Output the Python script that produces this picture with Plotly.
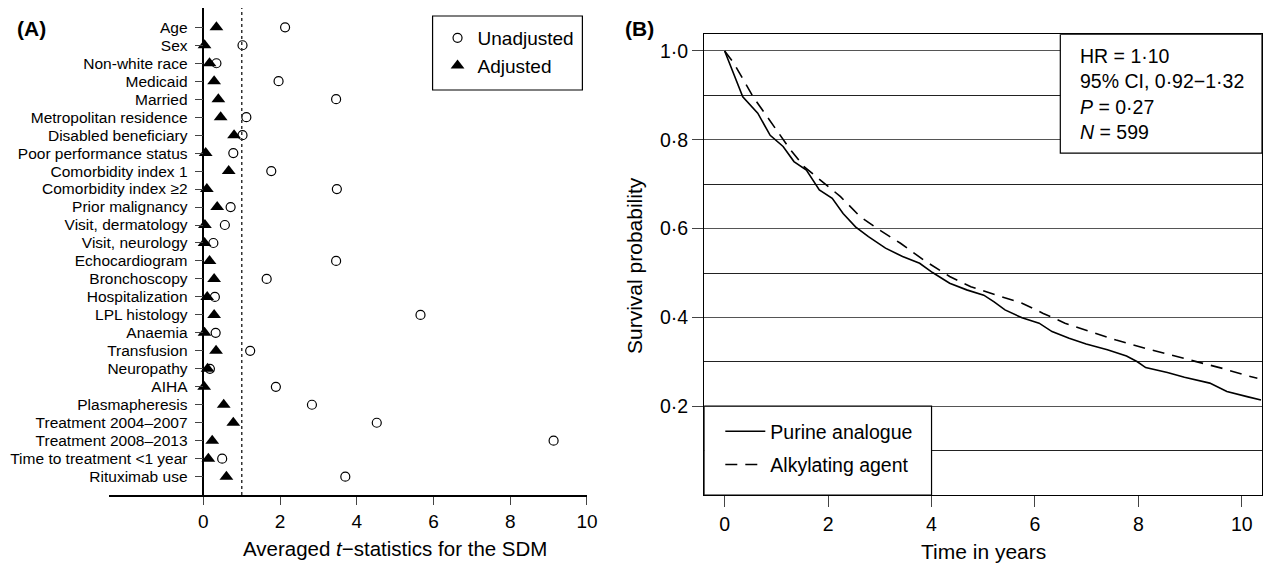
import plotly.graph_objects as go

W, H = 1274, 563
def px(x):
    return x / W
def py(y):
    return 1 - y / H

# ---------------- Panel A data ----------------
covariates = [
    "Age", "Sex", "Non-white race", "Medicaid", "Married", "Metropolitan residence",
    "Disabled beneficiary", "Poor performance status", "Comorbidity index 1",
    "Comorbidity index ≥2", "Prior malignancy", "Visit, dermatology", "Visit, neurology",
    "Echocardiogram", "Bronchoscopy", "Hospitalization", "LPL histology", "Anaemia",
    "Transfusion", "Neuropathy", "AIHA", "Plasmapheresis", "Treatment 2004–2007",
    "Treatment 2008–2013", "Time to treatment <1 year", "Rituximab use",
]
unadjusted = [2.13, 1.02, 0.34, 1.96, 3.46, 1.12, 1.02, 0.78, 1.77, 3.48, 0.71, 0.56, 0.26,
              3.46, 1.65, 0.30, 5.66, 0.32, 1.22, 0.17, 1.89, 2.83, 4.52, 9.13, 0.49, 3.70]
adjusted = [0.34, 0.03, 0.16, 0.28, 0.39, 0.45, 0.80, 0.06, 0.66, 0.09, 0.36, 0.04, 0.03,
            0.16, 0.28, 0.10, 0.28, 0.03, 0.33, 0.11, 0.02, 0.53, 0.78, 0.23, 0.13, 0.60]
a_xticks = [0, 2, 4, 6, 8, 10]
threshold = 1.0

# ---------------- Panel B data ----------------
purine_t = [0, 0.35, 0.64, 0.88, 1.13, 1.34, 1.58, 1.83, 2.08, 2.29, 2.53, 2.78, 3.11, 3.44,
            3.77, 4.02, 4.35, 4.68, 5.01, 5.21, 5.42, 5.75, 6.08, 6.33, 6.66, 6.99, 7.40,
            7.77, 7.98, 8.14, 8.56, 8.89, 9.38, 9.71, 10.12, 10.37]
purine_s = [1.0, 0.897, 0.86, 0.81, 0.785, 0.751, 0.732, 0.687, 0.668, 0.634, 0.604, 0.582,
            0.556, 0.537, 0.522, 0.501, 0.477, 0.462, 0.450, 0.435, 0.417, 0.399, 0.387,
            0.368, 0.353, 0.340, 0.327, 0.313, 0.300, 0.287, 0.276, 0.265, 0.252, 0.233,
            0.221, 0.214]
alkyl_t = [0, 0.18, 0.55, 0.97, 1.25, 1.54, 1.96, 2.24, 2.62, 2.99, 3.40, 3.85, 4.35, 4.76,
           5.26, 5.75, 6.16, 6.58, 7.07, 7.57, 8.14, 8.64, 9.13, 9.63, 10.12, 10.30]
alkyl_s = [1.0, 0.972, 0.897, 0.826, 0.781, 0.739, 0.698, 0.672, 0.627, 0.597, 0.567, 0.529,
           0.492, 0.469, 0.450, 0.432, 0.409, 0.387, 0.368, 0.349, 0.330, 0.315, 0.300,
           0.285, 0.268, 0.263]
b_xticks = [0, 2, 4, 6, 8, 10]
b_yticks = [0.2, 0.4, 0.6, 0.8, 1.0]
b_yticktext = ["0·2", "0·4", "0·6", "0·8", "1·0"]
b_minor = [0.1, 0.3, 0.5, 0.7, 0.9]
stats_lines = ["HR = 1·10", "95% CI, 0·92−1·32", "<i>P</i> = 0·27", "<i>N</i> = 599"]

FONT = "Liberation Sans, Arial, Helvetica, sans-serif"

fig = go.Figure()
fig.add_trace(go.Scatter(
    x=unadjusted, y=covariates, mode="markers", name="Unadjusted",
    marker=dict(symbol="circle-open", size=9, color="black", line=dict(width=1.2)),
    xaxis="x", yaxis="y", legend="legend"))
fig.add_trace(go.Scatter(
    x=adjusted, y=covariates, mode="markers", name="Adjusted",
    marker=dict(symbol="triangle-up", size=12, color="black"),
    xaxis="x", yaxis="y", legend="legend"))
fig.add_trace(go.Scatter(
    x=purine_t, y=purine_s, mode="lines", name="Purine analogue",
    line=dict(color="black", width=1.6), xaxis="x2", yaxis="y2",
    legend="legend2", legendgroup="pa"))
fig.add_trace(go.Scatter(
    x=alkyl_t, y=alkyl_s, mode="lines", name="Alkylating agent",
    line=dict(color="black", width=1.6, dash="12px,8px"), xaxis="x2", yaxis="y2",
    legend="legend2", legendgroup="aa"))

bx_min, bx_max = -0.397, 10.39

fig.update_layout(
    width=W, height=H, margin=dict(l=0, r=0, t=0, b=0),
    paper_bgcolor="white", plot_bgcolor="white",
    font=dict(family=FONT, color="black"),
    showlegend=True,
    xaxis=dict(domain=[px(110), px(592)], range=[-2.457, 10.01], tickvals=a_xticks,
               ticks="outside", ticklen=8, tickwidth=1.3, showline=True, linecolor="black",
               linewidth=1.5, showgrid=False, zeroline=False, tickfont=dict(size=19),
               anchor="y"),
    yaxis=dict(domain=[py(495), py(8)], type="category", categoryorder="array",
               categoryarray=covariates, range=[26.02, -1.073], anchor="free",
               position=px(205), showline=True, linecolor="black", linewidth=1.5,
               tickmode="linear", tick0=0, dtick=1,
               ticks="outside", ticklen=8, tickwidth=1.3, showgrid=False, zeroline=False,
               tickfont=dict(size=15.5), ticklabelstandoff=4),
    xaxis2=dict(domain=[px(709.7), px(1272)], range=[bx_min, bx_max], tickvals=b_xticks,
                ticks="outside", ticklen=11, tickwidth=1.3, showline=True, mirror=True,
                linecolor="black", linewidth=1.3, showgrid=False, zeroline=False,
                tickfont=dict(size=19.5), anchor="y2"),
    yaxis2=dict(domain=[py(495), py(34.3)], range=[0, 1.0376], tickvals=b_yticks,
                ticktext=b_yticktext, ticks="outside", ticklen=11, tickwidth=1.3,
                showline=True, mirror=True, linecolor="black", linewidth=1.3,
                showgrid=True, gridcolor="#555555", gridwidth=1.2, zeroline=False,
                tickfont=dict(size=19.5), anchor="x2",
                minor=dict(tickvals=b_minor, showgrid=True, gridcolor="#222222",
                           gridwidth=1, ticks="")),
    legend=dict(x=px(441), y=py(19), xanchor="left", yanchor="top",
                bgcolor="rgba(0,0,0,0)", borderwidth=0,
                font=dict(size=19), itemwidth=30),
    legend2=dict(x=px(726), y=py(412), xanchor="left", yanchor="top",
                 bgcolor="rgba(0,0,0,0)", borderwidth=0, font=dict(size=19.5),
                 itemwidth=40, tracegroupgap=5),
)

fig.add_shape(type="line", xref="x", yref="paper", x0=threshold, x1=threshold,
              y0=py(495), y1=py(8), line=dict(color="#333333", width=1.5, dash="dot"))
# legend frame for panel A
fig.add_shape(type="rect", xref="paper", yref="paper", x0=px(436), x1=px(587),
              y0=py(90), y1=py(16), fillcolor="white", line=dict(color="black", width=1.2),
              layer="above")
fig.add_shape(type="rect", xref="x2", yref="y2", x0=bx_min, x1=4, y0=0, y1=0.2,
              fillcolor="white", line=dict(color="black", width=1.2), layer="above")
fig.add_shape(type="rect", xref="x2", yref="y2", x0=6.49, x1=bx_max, y0=0.770, y1=1.0376,
              fillcolor="white", line=dict(color="black", width=1.2), layer="above")

fig.add_annotation(text="<b>(A)</b>", xref="paper", yref="paper", x=px(15), y=py(29),
                   xanchor="left", yanchor="middle", showarrow=False, font=dict(size=21))
fig.add_annotation(text="<b>(B)</b>", xref="paper", yref="paper", x=px(628), y=py(29),
                   xanchor="left", yanchor="middle", showarrow=False, font=dict(size=21))
fig.add_annotation(text="Averaged <i>t</i>−statistics for the SDM", xref="x", yref="paper",
                   x=5, y=py(548), xanchor="center", yanchor="middle", showarrow=False,
                   font=dict(size=20.5))
fig.add_annotation(text="Time in years", xref="paper", yref="paper", x=px(991), y=py(551),
                   xanchor="center", yanchor="middle", showarrow=False, font=dict(size=21))
fig.add_annotation(text="Survival probability", xref="paper", yref="paper", x=px(640),
                   y=py(265), xanchor="center", yanchor="middle", textangle=-90,
                   showarrow=False, font=dict(size=21))
fig.add_annotation(text="<br>".join(stats_lines), xref="paper", yref="paper", x=px(1087),
                   y=py(94), xanchor="left", yanchor="middle", align="left",
                   showarrow=False, font=dict(size=19.5))

fig.write_html("out.html", config={"displayModeBar": False},
               post_script="document.body.style.margin='0';document.body.style.overflow='hidden';")
